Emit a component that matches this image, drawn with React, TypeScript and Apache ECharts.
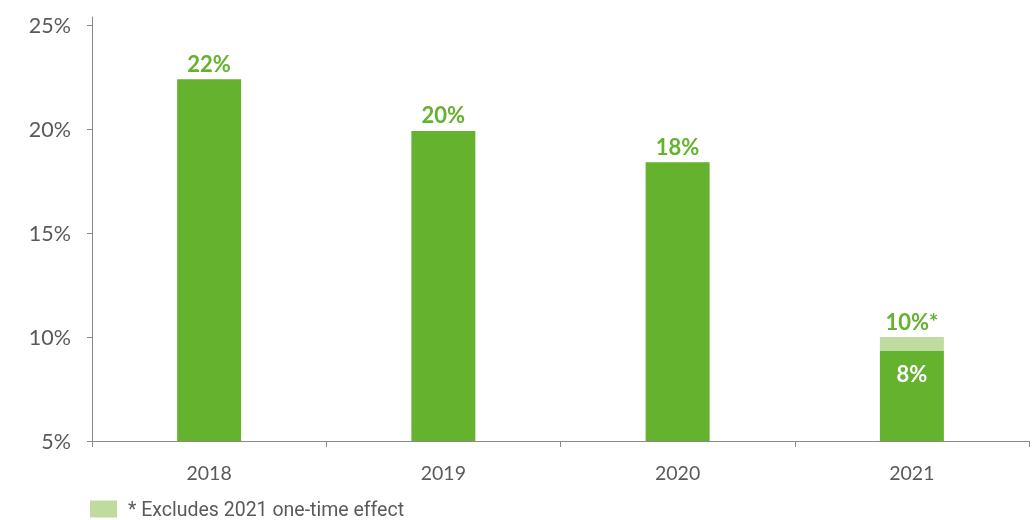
import React, { useEffect, useRef } from "react";
import * as echarts from "echarts";

const categories = ["2018", "2019", "2020", "2021"];
const baseValues = [22.4, 19.92, 18.41, 9.33];
const oneTimeEffect: (number | string)[] = ["-", "-", "-", 0.67];
const baseLabels = ["22%", "20%", "18%", "8%"];
const effectLabels = ["", "", "", "10%*"];
const yTicks = [5, 10, 15, 20, 25];
const legendName = "* Excludes 2021 one-time effect";

const DARK = "#65B22E";
const LIGHT = "#BFDB9F";
const GREY = "#5a5a5a";
const AXIS = "#8a8a8a";
const FONT = "Lato, 'Open Sans', sans-serif";

export default function App() {
  const ref = useRef<HTMLDivElement>(null);
  useEffect(() => {
    if (!ref.current) return;
    const chart = echarts.init(ref.current, null, { renderer: "svg" });
    chart.setOption({
      animation: false,
      grid: { left: 92, right: 3, top: 17, bottom: 79, containLabel: false },
      legend: {
        data: [{ name: legendName, icon: "rect" }],
        left: 90,
        top: 499,
        padding: 0,
        itemWidth: 27,
        itemHeight: 17,
        textStyle: {
          color: GREY,
          fontSize: 19.5,
          lineHeight: 20,
          fontFamily: "Roboto, sans-serif",
          padding: [0, 0, 0, 6],
        },
      },
      xAxis: {
        type: "category",
        data: categories,
        axisLine: { lineStyle: { color: AXIS, width: 1 } },
        axisTick: { show: true, length: 6, lineStyle: { color: AXIS } },
        axisLabel: { color: GREY, fontSize: 19.5, fontFamily: FONT, margin: 21 },
      },
      yAxis: {
        type: "value",
        min: 5,
        max: 25.4,
        interval: 5,
        splitLine: { show: false },
        axisLine: { show: true, lineStyle: { color: AXIS, width: 1 } },
        axisTick: { show: true, length: 5, lineStyle: { color: AXIS }, customValues: yTicks },
        axisLabel: {
          color: GREY,
          fontSize: 21.5,
          fontFamily: FONT,
          margin: 21,
          customValues: yTicks,
          formatter: (v: number) => `${v}%`,
        },
      },
      series: [
        {
          name: "base",
          type: "bar",
          stack: "a",
          barWidth: 64,
          itemStyle: { color: DARK },
          data: baseValues.map((v, i) => ({
            value: v,
            label:
              i === 3
                ? { position: "insideTop", distance: 11, color: "#ffffff" }
                : { position: "top", distance: 5, color: DARK },
          })),
          label: {
            show: true,
            fontSize: 22,
            fontWeight: "bold",
            fontFamily: FONT,
            formatter: (p: any) => baseLabels[p.dataIndex],
          },
        },
        {
          name: legendName,
          type: "bar",
          stack: "a",
          barWidth: 64,
          itemStyle: { color: LIGHT },
          data: oneTimeEffect,
          label: {
            show: true,
            position: "top",
            distance: 5,
            color: DARK,
            fontSize: 22,
            fontWeight: "bold",
            fontFamily: FONT,
            formatter: (p: any) => effectLabels[p.dataIndex],
          },
        },
      ],
    });
    return () => chart.dispose();
  }, []);
  return <div ref={ref} style={{ width: 1032, height: 520, position: "fixed", left: 0, top: 0 }} />;
}
